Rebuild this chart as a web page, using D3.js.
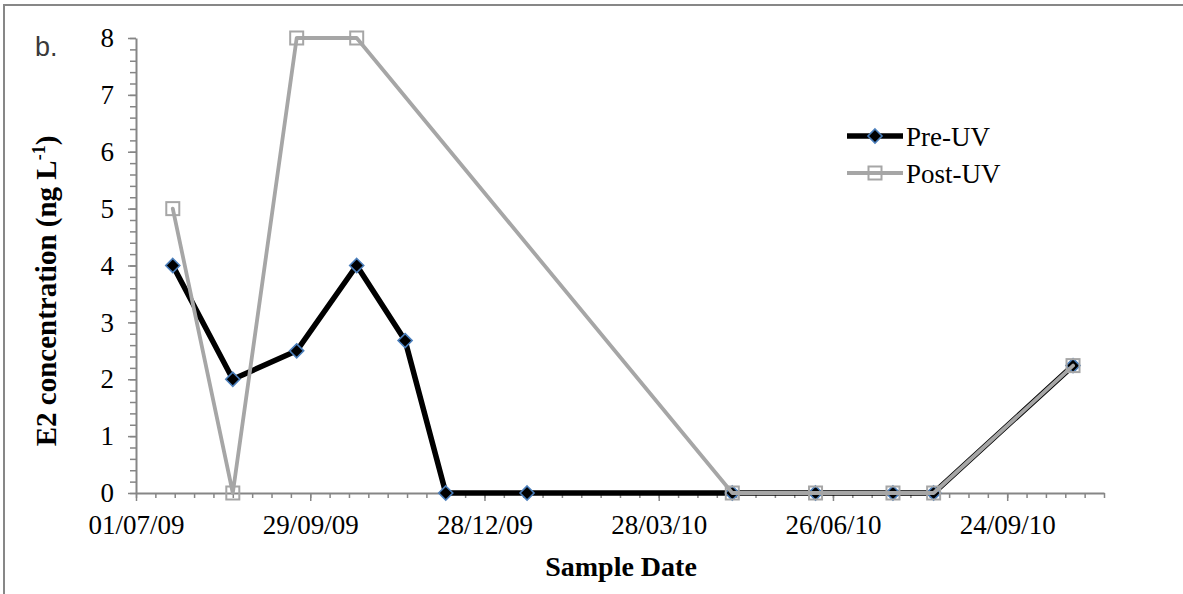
<!DOCTYPE html>
<html>
<head>
<meta charset="utf-8">
<script src="https://cdn.jsdelivr.net/npm/d3@7"></script>
<style>
  body { margin: 0; background: #fff; }
  text { font-family: "Liberation Serif", "Times New Roman", serif; }
</style>
</head>
<body>
<svg id="chart" width="1183" height="594"></svg>
<script>
// Sampling dates (dd/mm/yy on the axis) and measured E2 concentrations, ng/L
const sampleDates = [
  "2009-07-20", "2009-08-20", "2009-09-22", "2009-10-23", "2009-11-17", "2009-12-08",
  "2010-01-19", "2010-05-05", "2010-06-17", "2010-07-27", "2010-08-17", "2010-10-28"
];
const preUV  = [4, 2, 2.5, 4, 2.68, 0, 0, 0, 0, 0, 0, 2.24];
const postUV = [5, 0, 8, 8, null, null, null, 0, 0, 0, 0, 2.24];

const seriesNames = ["Pre-UV", "Post-UV"];
const yTicks = [0, 1, 2, 3, 4, 5, 6, 7, 8];
const xTickDates = ["2009-07-01", "2009-09-29", "2009-12-28", "2010-03-28", "2010-06-26", "2010-09-24"];
const xDomain = ["2009-07-01", "2010-11-13"];

const parse = d3.utcParse("%Y-%m-%d");
const fmt = d3.utcFormat("%d/%m/%y");
const serif = '"Liberation Serif", "Times New Roman", serif';

const svg = d3.select("#chart");
const W = 1183, H = 594;
const plot = { left: 136, right: 1104, top: 38, bottom: 493 };

// outer frame
svg.append("rect")
  .attr("x", 4).attr("y", 5)
  .attr("width", W + 10).attr("height", H + 10)
  .attr("fill", "none").attr("stroke", "#878787").attr("stroke-width", 2);

const x = d3.scaleUtc().domain(xDomain.map(parse)).range([plot.left, plot.right]);
const y = d3.scaleLinear().domain([0, 8]).range([plot.bottom, plot.top]);

const axisColor = "#868686";

// minor ticks: x every 10 days, y every 0.2
const d0 = parse(xDomain[0]);
const minorX = d3.range(0, 501, 10).map(d => d3.utcDay.offset(d0, d));
const minorY = d3.range(0, 41).map(i => i * 0.2);

const gx = svg.append("g").attr("transform", `translate(0,${plot.bottom})`);
gx.append("g").call(d3.axisBottom(x).tickValues(minorX).tickSize(5).tickFormat("")).call(g => g.select(".domain").remove());
gx.append("g").call(d3.axisBottom(x).tickValues(xTickDates.map(parse)).tickSize(8).tickSizeOuter(0).tickPadding(14).tickFormat(fmt));

const gy = svg.append("g").attr("transform", `translate(${plot.left},0)`);
gy.append("g").call(d3.axisLeft(y).tickValues(minorY).tickSize(6).tickFormat("")).call(g => g.select(".domain").remove());
gy.append("g").call(d3.axisLeft(y).tickValues(yTicks).tickSize(8).tickSizeOuter(0).tickPadding(14).tickFormat(d3.format("d")));

svg.selectAll("g").attr("font-family", serif);
svg.selectAll(".domain").attr("stroke", axisColor).attr("stroke-width", 2);
svg.selectAll(".tick line").attr("stroke", axisColor).attr("stroke-width", 1.5);
svg.selectAll(".tick text")
  .attr("fill", "#000")
  .style("font-family", serif)
  .style("font-size", "27px");

// series
const rows = sampleDates.map((d, i) => ({ date: parse(d), pre: preUV[i], post: postUV[i] }));
const diamond = "M0,-7L7,0L0,7L-7,0Z";

const lineFor = key => d3.line()
  .defined(d => d[key] != null)
  .x(d => x(d.date)).y(d => y(d[key]));

// Pre-UV
svg.append("path")
  .datum(rows)
  .attr("d", lineFor("pre"))
  .attr("fill", "none").attr("stroke", "#000").attr("stroke-width", 5.5)
  .attr("stroke-linejoin", "round").attr("stroke-linecap", "round");
svg.append("g").selectAll("path")
  .data(rows.filter(d => d.pre != null))
  .join("path")
  .attr("transform", d => `translate(${x(d.date)},${y(d.pre)})`)
  .attr("d", diamond)
  .attr("fill", "#000").attr("stroke", "#4a7ebb").attr("stroke-width", 1.6);

// Post-UV (missing samples are bridged)
const postRows = rows.filter(d => d.post != null);
svg.append("path")
  .datum(postRows)
  .attr("d", lineFor("post"))
  .attr("fill", "none").attr("stroke", "#a6a6a6").attr("stroke-width", 3.8)
  .attr("stroke-linejoin", "round").attr("stroke-linecap", "round");
svg.append("g").selectAll("rect")
  .data(postRows)
  .join("rect")
  .attr("x", d => x(d.date) - 6.5).attr("y", d => y(d.post) - 6.5)
  .attr("width", 13).attr("height", 13)
  .attr("fill", "none").attr("stroke", "#a6a6a6").attr("stroke-width", 2);

// legend
const legend = svg.append("g");
const legendRows = [
  { name: seriesNames[0], y: 136, stroke: "#000", width: 5.5 },
  { name: seriesNames[1], y: 173, stroke: "#a6a6a6", width: 3.8 }
];
legendRows.forEach((r, i) => {
  legend.append("line")
    .attr("x1", 847).attr("x2", 903).attr("y1", r.y).attr("y2", r.y)
    .attr("stroke", r.stroke).attr("stroke-width", r.width);
  if (i === 0) {
    legend.append("path").attr("transform", `translate(875,${r.y})`).attr("d", diamond)
      .attr("fill", "#000").attr("stroke", "#4a7ebb").attr("stroke-width", 1.6);
  } else {
    legend.append("rect").attr("x", 875 - 6.5).attr("y", r.y - 6.5)
      .attr("width", 13).attr("height", 13)
      .attr("fill", "none").attr("stroke", "#a6a6a6").attr("stroke-width", 2);
  }
  legend.append("text")
    .attr("x", 906).attr("y", r.y + 10)
    .style("font-family", serif)
    .style("font-size", "27px").attr("fill", "#000")
    .text(r.name);
});

// axis titles
svg.append("text")
  .attr("x", (plot.left + plot.right) / 2 + 1).attr("y", 576)
  .attr("text-anchor", "middle")
  .style("font-family", serif)
  .style("font-size", "28px").style("font-weight", "bold")
  .text("Sample Date");

const yTitle = svg.append("text")
  .attr("transform", "translate(56,291) rotate(-90)")
  .attr("text-anchor", "middle")
  .style("font-family", serif)
  .style("font-size", "29px").style("font-weight", "bold");
yTitle.append("tspan").text("E2 concentration (ng L");
yTitle.append("tspan").attr("dy", -11).style("font-size", "18px").text("-1");
yTitle.append("tspan").attr("dy", 11).text(")");

// panel label
svg.append("text")
  .attr("x", 35).attr("y", 56)
  .style("font-family", '"Liberation Sans", Arial, sans-serif')
  .style("font-size", "27px").attr("fill", "#3a3a3a")
  .text("b.");
</script>
</body>
</html>
